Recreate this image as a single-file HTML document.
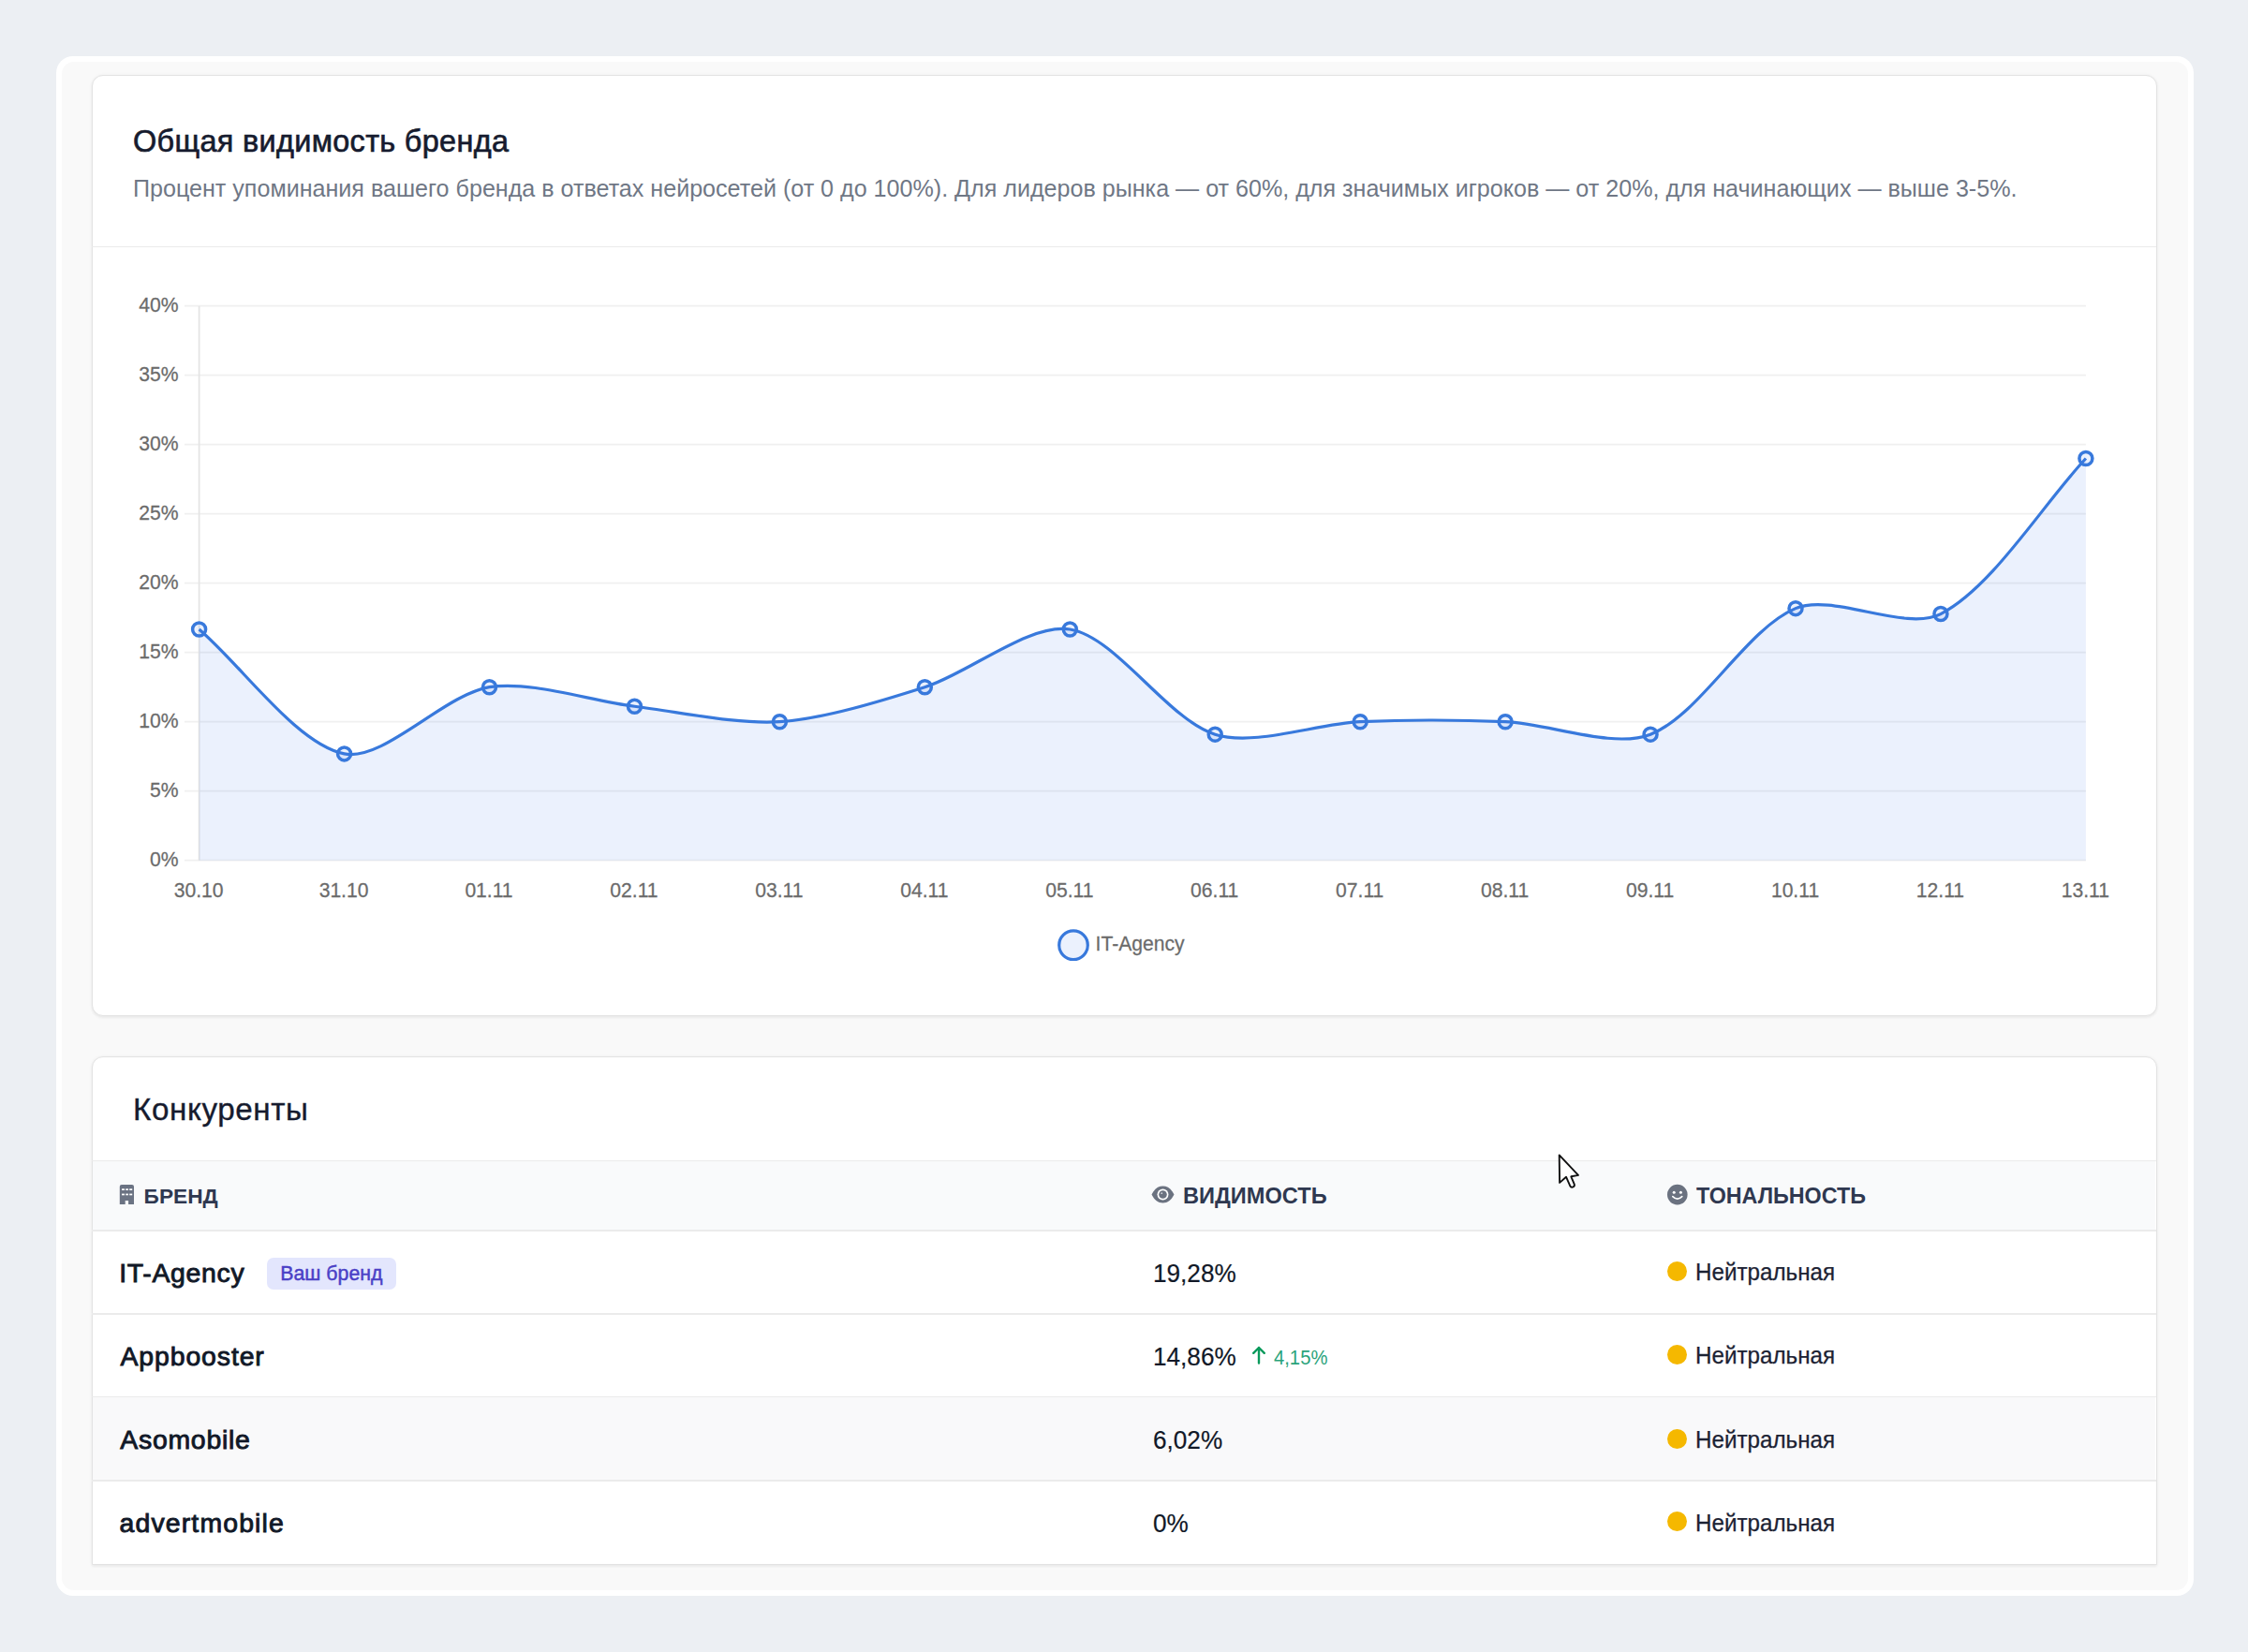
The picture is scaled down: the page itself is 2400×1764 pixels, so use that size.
<!DOCTYPE html>
<html><head><meta charset="utf-8"><style>
*{margin:0;padding:0;box-sizing:border-box}
html,body{width:2400px;height:1764px;overflow:hidden}
body{background:#eceff3;font-family:"Liberation Sans",sans-serif;position:relative}
.outer{position:absolute;left:60px;top:60px;width:2282px;height:1644px;background:#fff;border-radius:18px}
.inner{position:absolute;left:66px;top:66px;width:2270px;height:1632px;background:#f9f9f9;border-radius:13px}
.card{position:absolute;left:97.5px;width:2205px;background:#fff;border:1.5px solid #e3e3e3;border-radius:12px;box-shadow:0 1.5px 3px rgba(0,0,0,0.05),0 0 4px rgba(0,0,0,0.035)}
.c1{top:79.5px;height:1005.5px}
.c2{top:1127.5px;height:543px;border-bottom-left-radius:0;border-bottom-right-radius:0;overflow:hidden}
.hl{position:absolute;left:98px;width:2204px;height:1.5px;background:#ebebeb}
.thead{position:absolute;left:99px;width:2202px;top:1240px;height:73.5px;background:#f9fafb}
.row3{position:absolute;left:99px;width:2202px;top:1492px;height:88.5px;background:#f9f9fa}
.t{position:absolute;white-space:nowrap;font-family:"Liberation Sans",sans-serif}
.chart{position:absolute;left:0;top:0}
.tk{font-family:"Liberation Sans",sans-serif;font-size:22px;fill:#6b6b6b;stroke:#6b6b6b;stroke-width:0.25px}
.dot{position:absolute;left:1779.8px;width:21px;height:21px;border-radius:50%;background:#f5b800}
.badge{position:absolute;left:285px;top:1342.7px;width:137.5px;height:34.7px;border-radius:7px;background:#e3e6fd}
.ico{position:absolute}
</style></head><body>
<div class="outer"></div>
<div class="inner"></div>
<div class="card c1"></div>
<div class="card c2"></div>
<div class="hl" style="top:262.5px"></div>
<div class="hl" style="top:1238.8px"></div>
<div class="thead"></div>
<div class="row3"></div>
<div class="hl" style="top:1313px"></div>
<div class="hl" style="top:1402.2px"></div>
<div class="hl" style="top:1490.9px"></div>
<div class="hl" style="top:1580px"></div>
<svg class="chart" width="2400" height="1100" viewBox="0 0 2400 1100">
<line x1="197" y1="918.70" x2="2226.90" y2="918.70" stroke="#f0f0f0" stroke-width="1.75"/>
<line x1="197" y1="844.70" x2="2226.90" y2="844.70" stroke="#f0f0f0" stroke-width="1.75"/>
<line x1="197" y1="770.70" x2="2226.90" y2="770.70" stroke="#f0f0f0" stroke-width="1.75"/>
<line x1="197" y1="696.70" x2="2226.90" y2="696.70" stroke="#f0f0f0" stroke-width="1.75"/>
<line x1="197" y1="622.70" x2="2226.90" y2="622.70" stroke="#f0f0f0" stroke-width="1.75"/>
<line x1="197" y1="548.70" x2="2226.90" y2="548.70" stroke="#f0f0f0" stroke-width="1.75"/>
<line x1="197" y1="474.70" x2="2226.90" y2="474.70" stroke="#f0f0f0" stroke-width="1.75"/>
<line x1="197" y1="400.70" x2="2226.90" y2="400.70" stroke="#f0f0f0" stroke-width="1.75"/>
<line x1="197" y1="326.70" x2="2226.90" y2="326.70" stroke="#f0f0f0" stroke-width="1.75"/>
<line x1="212.60" y1="326.70" x2="212.60" y2="918.70" stroke="#e4e4e4" stroke-width="1.75"/>
<path d="M212.60 671.98 C259.08 711.86 316.89 794.80 367.55 804.89 C409.86 813.31 473.99 741.62 522.49 733.70 C566.95 726.44 630.88 748.71 677.44 754.27 C723.85 759.81 786.42 773.75 832.38 770.70 C879.38 767.58 941.91 748.17 987.33 733.70 C1034.88 718.55 1098.97 664.93 1142.28 671.98 C1191.94 680.07 1245.95 767.83 1297.22 784.17 C1338.91 797.45 1405.60 772.72 1452.17 770.70 C1498.57 768.68 1560.72 768.68 1607.12 770.70 C1653.69 772.72 1721.98 799.83 1762.06 784.17 C1814.95 763.51 1864.05 671.61 1917.01 649.64 C1957.02 633.03 2034.23 675.05 2071.95 655.56 C2127.20 627.01 2180.42 539.32 2226.90 489.50 L2226.90 918.70 L212.60 918.70 Z" fill="rgba(59,120,235,0.10)" stroke="none"/>
<path d="M212.60 671.98 C259.08 711.86 316.89 794.80 367.55 804.89 C409.86 813.31 473.99 741.62 522.49 733.70 C566.95 726.44 630.88 748.71 677.44 754.27 C723.85 759.81 786.42 773.75 832.38 770.70 C879.38 767.58 941.91 748.17 987.33 733.70 C1034.88 718.55 1098.97 664.93 1142.28 671.98 C1191.94 680.07 1245.95 767.83 1297.22 784.17 C1338.91 797.45 1405.60 772.72 1452.17 770.70 C1498.57 768.68 1560.72 768.68 1607.12 770.70 C1653.69 772.72 1721.98 799.83 1762.06 784.17 C1814.95 763.51 1864.05 671.61 1917.01 649.64 C1957.02 633.03 2034.23 675.05 2071.95 655.56 C2127.20 627.01 2180.42 539.32 2226.90 489.50" fill="none" stroke="#3879dc" stroke-width="3.2" stroke-linejoin="round"/>
<circle cx="212.60" cy="671.98" r="7" fill="rgba(59,120,235,0.10)" stroke="#3879dc" stroke-width="3.5"/>
<circle cx="367.55" cy="804.89" r="7" fill="rgba(59,120,235,0.10)" stroke="#3879dc" stroke-width="3.5"/>
<circle cx="522.49" cy="733.70" r="7" fill="rgba(59,120,235,0.10)" stroke="#3879dc" stroke-width="3.5"/>
<circle cx="677.44" cy="754.27" r="7" fill="rgba(59,120,235,0.10)" stroke="#3879dc" stroke-width="3.5"/>
<circle cx="832.38" cy="770.70" r="7" fill="rgba(59,120,235,0.10)" stroke="#3879dc" stroke-width="3.5"/>
<circle cx="987.33" cy="733.70" r="7" fill="rgba(59,120,235,0.10)" stroke="#3879dc" stroke-width="3.5"/>
<circle cx="1142.28" cy="671.98" r="7" fill="rgba(59,120,235,0.10)" stroke="#3879dc" stroke-width="3.5"/>
<circle cx="1297.22" cy="784.17" r="7" fill="rgba(59,120,235,0.10)" stroke="#3879dc" stroke-width="3.5"/>
<circle cx="1452.17" cy="770.70" r="7" fill="rgba(59,120,235,0.10)" stroke="#3879dc" stroke-width="3.5"/>
<circle cx="1607.12" cy="770.70" r="7" fill="rgba(59,120,235,0.10)" stroke="#3879dc" stroke-width="3.5"/>
<circle cx="1762.06" cy="784.17" r="7" fill="rgba(59,120,235,0.10)" stroke="#3879dc" stroke-width="3.5"/>
<circle cx="1917.01" cy="649.64" r="7" fill="rgba(59,120,235,0.10)" stroke="#3879dc" stroke-width="3.5"/>
<circle cx="2071.95" cy="655.56" r="7" fill="rgba(59,120,235,0.10)" stroke="#3879dc" stroke-width="3.5"/>
<circle cx="2226.90" cy="489.50" r="7" fill="rgba(59,120,235,0.10)" stroke="#3879dc" stroke-width="3.5"/>
<text transform="translate(190.5 925.30) scale(0.96 1.02)" text-anchor="end" class="tk">0%</text>
<text transform="translate(190.5 851.30) scale(0.96 1.02)" text-anchor="end" class="tk">5%</text>
<text transform="translate(190.5 777.30) scale(0.96 1.02)" text-anchor="end" class="tk">10%</text>
<text transform="translate(190.5 703.30) scale(0.96 1.02)" text-anchor="end" class="tk">15%</text>
<text transform="translate(190.5 629.30) scale(0.96 1.02)" text-anchor="end" class="tk">20%</text>
<text transform="translate(190.5 555.30) scale(0.96 1.02)" text-anchor="end" class="tk">25%</text>
<text transform="translate(190.5 481.30) scale(0.96 1.02)" text-anchor="end" class="tk">30%</text>
<text transform="translate(190.5 407.30) scale(0.96 1.02)" text-anchor="end" class="tk">35%</text>
<text transform="translate(190.5 333.30) scale(0.96 1.02)" text-anchor="end" class="tk">40%</text>
<text transform="translate(212.10 958.4) scale(0.96 1.02)" text-anchor="middle" class="tk">30.10</text>
<text transform="translate(367.05 958.4) scale(0.96 1.02)" text-anchor="middle" class="tk">31.10</text>
<text transform="translate(521.99 958.4) scale(0.96 1.02)" text-anchor="middle" class="tk">01.11</text>
<text transform="translate(676.94 958.4) scale(0.96 1.02)" text-anchor="middle" class="tk">02.11</text>
<text transform="translate(831.88 958.4) scale(0.96 1.02)" text-anchor="middle" class="tk">03.11</text>
<text transform="translate(986.83 958.4) scale(0.96 1.02)" text-anchor="middle" class="tk">04.11</text>
<text transform="translate(1141.78 958.4) scale(0.96 1.02)" text-anchor="middle" class="tk">05.11</text>
<text transform="translate(1296.72 958.4) scale(0.96 1.02)" text-anchor="middle" class="tk">06.11</text>
<text transform="translate(1451.67 958.4) scale(0.96 1.02)" text-anchor="middle" class="tk">07.11</text>
<text transform="translate(1606.62 958.4) scale(0.96 1.02)" text-anchor="middle" class="tk">08.11</text>
<text transform="translate(1761.56 958.4) scale(0.96 1.02)" text-anchor="middle" class="tk">09.11</text>
<text transform="translate(1916.51 958.4) scale(0.96 1.02)" text-anchor="middle" class="tk">10.11</text>
<text transform="translate(2071.45 958.4) scale(0.96 1.02)" text-anchor="middle" class="tk">12.11</text>
<text transform="translate(2226.40 958.4) scale(0.96 1.02)" text-anchor="middle" class="tk">13.11</text>
<circle cx="1146" cy="1009.2" r="15.3" fill="rgba(59,120,235,0.10)" stroke="#3879dc" stroke-width="3.2"/>
<text transform="translate(1169.6 1014.6) scale(0.96 1.02)" class="tk">IT-Agency</text>
</svg>
<div class="t" style="left:142.0px;top:134.77px;font-size:32.40px;line-height:32.40px;font-weight:400;color:#161b2e;-webkit-text-stroke:0.65px #161b2e;letter-spacing:0.34px;">Общая видимость бренда</div>
<div class="t" style="left:142.0px;top:188.75px;font-size:25.10px;line-height:25.10px;font-weight:400;color:#6f7785;">Процент упоминания вашего бренда в ответах нейросетей (от 0 до 100%). Для лидеров рынка — от 60%, для значимых игроков — от 20%, для начинающих — выше 3-5%.</div>
<div class="t" style="left:142.0px;top:1168.40px;font-size:33.20px;line-height:33.20px;font-weight:400;color:#161b2e;-webkit-text-stroke:0.35px #161b2e;letter-spacing:0.60px;">Конкуренты</div>
<div class="t" style="left:153.6px;top:1265.78px;font-size:22.70px;line-height:22.70px;font-weight:700;color:#2f3850;text-transform:uppercase;">Бренд</div>
<div class="t" style="left:1263.0px;top:1266.02px;font-size:23.60px;line-height:23.60px;font-weight:700;color:#2f3850;text-transform:uppercase;">Видимость</div>
<div class="t" style="left:1811.0px;top:1265.58px;font-size:23.30px;line-height:23.30px;font-weight:700;color:#2f3850;text-transform:uppercase;">Тональность</div>
<div class="t" style="left:127.2px;top:1344.96px;font-size:28.40px;line-height:28.40px;font-weight:400;color:#111827;-webkit-text-stroke:0.90px #111827;letter-spacing:0.70px;">IT-Agency</div>
<div class="t" style="left:1230.8px;top:1345.81px;font-size:27.40px;line-height:27.40px;font-weight:400;color:#111827;-webkit-text-stroke:0.20px #111827;transform:scaleX(0.955);transform-origin:0 0;">19,28%</div>
<div class="t" style="left:1810.0px;top:1346.32px;font-size:24.90px;line-height:24.90px;font-weight:400;color:#1c2233;-webkit-text-stroke:0.25px #1c2233;transform:scaleX(0.972);transform-origin:0 0;">Нейтральная</div>
<div class="dot" style="top:1347.2px"></div>
<div class="t" style="left:128.5px;top:1433.96px;font-size:28.40px;line-height:28.40px;font-weight:400;color:#111827;-webkit-text-stroke:0.90px #111827;letter-spacing:0.90px;">Appbooster</div>
<div class="t" style="left:1230.8px;top:1434.81px;font-size:27.40px;line-height:27.40px;font-weight:400;color:#111827;-webkit-text-stroke:0.20px #111827;transform:scaleX(0.955);transform-origin:0 0;">14,86%</div>
<div class="t" style="left:1810.0px;top:1435.32px;font-size:24.90px;line-height:24.90px;font-weight:400;color:#1c2233;-webkit-text-stroke:0.25px #1c2233;transform:scaleX(0.972);transform-origin:0 0;">Нейтральная</div>
<div class="dot" style="top:1436.2px"></div>
<div class="t" style="left:128.3px;top:1523.26px;font-size:28.40px;line-height:28.40px;font-weight:400;color:#111827;-webkit-text-stroke:0.90px #111827;letter-spacing:0.75px;">Asomobile</div>
<div class="t" style="left:1230.8px;top:1524.11px;font-size:27.40px;line-height:27.40px;font-weight:400;color:#111827;-webkit-text-stroke:0.20px #111827;transform:scaleX(0.955);transform-origin:0 0;">6,02%</div>
<div class="t" style="left:1810.0px;top:1524.62px;font-size:24.90px;line-height:24.90px;font-weight:400;color:#1c2233;-webkit-text-stroke:0.25px #1c2233;transform:scaleX(0.972);transform-origin:0 0;">Нейтральная</div>
<div class="dot" style="top:1525.5px"></div>
<div class="t" style="left:127.6px;top:1612.16px;font-size:28.40px;line-height:28.40px;font-weight:400;color:#111827;-webkit-text-stroke:0.90px #111827;letter-spacing:1.15px;">advertmobile</div>
<div class="t" style="left:1230.8px;top:1613.01px;font-size:27.40px;line-height:27.40px;font-weight:400;color:#111827;-webkit-text-stroke:0.20px #111827;transform:scaleX(0.955);transform-origin:0 0;">0%</div>
<div class="t" style="left:1810.0px;top:1613.52px;font-size:24.90px;line-height:24.90px;font-weight:400;color:#1c2233;-webkit-text-stroke:0.25px #1c2233;transform:scaleX(0.972);transform-origin:0 0;">Нейтральная</div>
<div class="dot" style="top:1614.4px"></div>
<div class="badge"></div>
<div class="t" style="left:299.3px;top:1350.47px;font-size:21.30px;line-height:21.30px;font-weight:400;color:#4a3fc6;-webkit-text-stroke:0.45px #4a3fc6;">Ваш бренд</div>
<div class="t" style="left:1359.5px;top:1438.55px;font-size:21.20px;line-height:21.20px;font-weight:400;color:#2aa37a;transform:scaleX(0.955);transform-origin:0 0;">4,15%</div>
<!-- icons -->
<svg class="ico" style="left:127px;top:1264px" width="18" height="23" viewBox="0 0 18 23">
  <path d="M2.9 0.9h11a2.1 2.1 0 0 1 2.1 2.1v19h-5.9v-4.1h-3.4v4.1h-5.9v-19a2.1 2.1 0 0 1 2.1-2.1z" fill="#6b7383"/>
  <g fill="#fff"><rect x="3" y="5.3" width="3" height="1.7"/><rect x="7.2" y="5.3" width="2.8" height="1.7"/><rect x="11.2" y="5.3" width="3" height="1.7"/>
  <rect x="3" y="10.6" width="3" height="1.7"/><rect x="7.2" y="10.6" width="2.8" height="1.7"/><rect x="11.2" y="10.6" width="3" height="1.7"/></g>
</svg>
<svg class="ico" style="left:1228px;top:1265px" width="27" height="21" viewBox="0 0 27 21">
  <path d="M1.5 10.5C4.5 4.5 8.5 1.5 13.5 1.5S22.5 4.5 25.5 10.5C22.5 16.5 18.5 19.5 13.5 19.5S4.5 16.5 1.5 10.5z" fill="#6b7280"/>
  <circle cx="13.5" cy="10.5" r="6.0" fill="#fff"/>
  <circle cx="13.5" cy="10.5" r="4.3" fill="#6b7280"/>
  <circle cx="12.3" cy="9.2" r="0.9" fill="#fff" opacity="0.7"/>
</svg>
<svg class="ico" style="left:1779px;top:1264px" width="24" height="24" viewBox="0 0 24 24">
  <circle cx="11.8" cy="11.6" r="10.8" fill="#6b7280"/>
  <circle cx="8.2" cy="9.2" r="1.5" fill="#fff"/>
  <circle cx="15.4" cy="9.2" r="1.5" fill="#fff"/>
  <path d="M6.8 13.6q5 5 10 0" fill="none" stroke="#fff" stroke-width="1.6" stroke-linecap="round"/>
</svg>
<svg class="ico" style="left:1334px;top:1435.5px" width="20" height="22" viewBox="0 0 20 22">
  <path d="M10 19.6V3M4.2 8.8L10 3l5.8 5.8" fill="none" stroke="#0a9a5c" stroke-width="2.4" stroke-linecap="round" stroke-linejoin="round"/>
</svg>
<svg class="ico" style="left:1660px;top:1230px" width="30" height="42" viewBox="0 0 30 42">
  <path d="M4.7 3.4L5.1 32.9L12 26.7L16.2 36.2Q17.3 38.3 19.5 37.4Q21.5 36.3 20.7 34.3L17.3 26.3L25 24.9Z" fill="#fff" stroke="#111" stroke-width="1.9" stroke-linejoin="round"/>
</svg>
</body></html>
